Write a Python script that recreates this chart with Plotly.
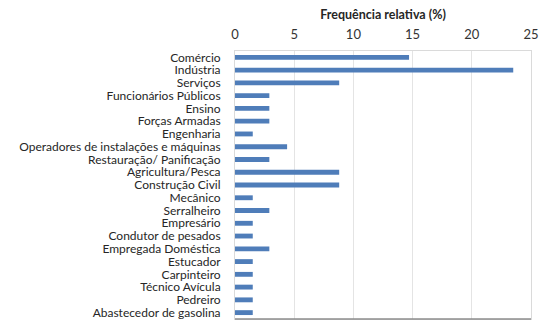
import plotly.graph_objects as go

categories = [
    "Comércio", "Indústria", "Serviços", "Funcionários Públicos", "Ensino",
    "Forças Armadas", "Engenharia", "Operadores de instalações e máquinas",
    "Restauração/ Panificação", "Agricultura/Pesca", "Construção Civil",
    "Mecânico", "Serralheiro", "Empresário", "Condutor de pesados",
    "Empregada Doméstica", "Estucador", "Carpinteiro", "Técnico Avícula",
    "Pedreiro", "Abastecedor de gasolina",
]
values = [14.7, 23.5, 8.8, 2.9, 2.9, 2.9, 1.5, 4.4, 2.9, 8.8, 8.8,
          1.5, 2.9, 1.5, 1.5, 2.9, 1.5, 1.5, 1.5, 1.5, 1.5]
x_ticks = [0, 5, 10, 15, 20, 25]
x_title = "Frequência relativa (%)"

font_family = "Lato, Open Sans, sans-serif"

fig = go.Figure(go.Bar(
    x=values,
    y=categories,
    orientation="h",
    marker=dict(color="#4F7DB9", line=dict(width=0)),
    hoverinfo="x+y",
))

fig.update_layout(
    width=543,
    height=320,
    margin=dict(l=235, r=12, t=51, b=1),
    paper_bgcolor="white",
    plot_bgcolor="white",
    bargap=0.62,
    showlegend=False,
    font=dict(family=font_family, size=12, color="#262626"),
    xaxis=dict(
        side="top",
        range=[0, 25],
        tickvals=x_ticks,
        ticks="",
        tickfont=dict(size=13, color="#333333"),
        showgrid=True,
        gridcolor="#E4E4E4",
        gridwidth=1,
        zeroline=False,
        showline=True,
        linecolor="#DADADA",
        mirror=True,
        ticklabelstandoff=6,
        title=dict(text="<b>" + x_title + "</b>",
                   font=dict(size=12.5, color="#262626"), standoff=3),
    ),
    yaxis=dict(
        autorange="reversed",
        tickmode="array",
        tickvals=categories,
        ticktext=categories,
        ticks="",
        tickfont=dict(size=12, color="#262626"),
        showline=True,
        linecolor="#DADADA",
        mirror=True,
        ticklabelstandoff=11,
    ),
)

# darker baseline along the bottom of the plot area
fig.add_shape(type="line", xref="paper", yref="paper",
              x0=0, x1=1, y0=0, y1=0,
              line=dict(color="#8C8C8C", width=1.5))

fig.write_html("out.html")
